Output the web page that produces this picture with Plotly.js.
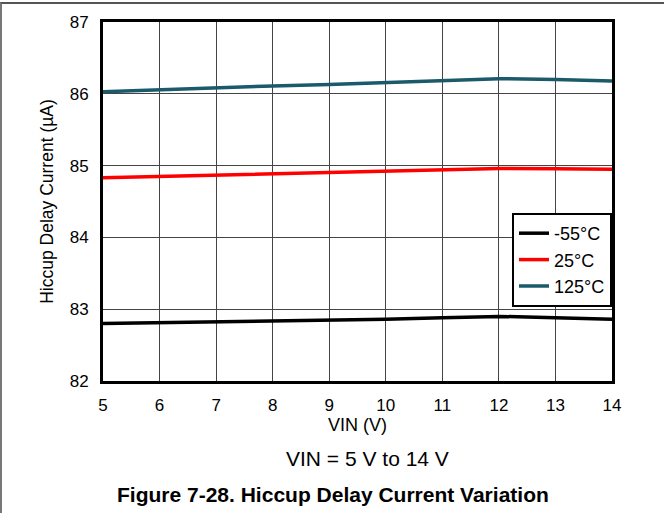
<!DOCTYPE html>
<html>
<head>
<meta charset="utf-8">
<script src="https://cdn.plot.ly/plotly-3.0.1.min.js"></script>
<style>
html,body{margin:0;padding:0;background:#fff;}
#wrap{position:absolute;left:0;top:0;width:664px;height:513px;}
#frame{position:absolute;left:0;top:2px;width:664px;height:511px;border-top:2px solid #555;border-left:2px solid #777;box-sizing:border-box;pointer-events:none;}
#chart{position:absolute;left:0;top:0;width:664px;height:513px;}
</style>
</head>
<body>
<div id="wrap"><div id="chart"></div><div id="frame"></div></div>
<script>
const vin = [5, 6, 7, 8, 9, 10, 11, 12, 13, 14];
const seriesNames = ['-55°C', '25°C', '125°C'];
const iMinus55 = [82.80, 82.81, 82.83, 82.84, 82.85, 82.86, 82.88, 82.90, 82.88, 82.86];
const i25 = [84.83, 84.85, 84.86, 84.88, 84.90, 84.92, 84.94, 84.96, 84.955, 84.95];
const i125 = [86.03, 86.06, 86.08, 86.11, 86.13, 86.16, 86.19, 86.21, 86.20, 86.18];
const xTicks = [5, 6, 7, 8, 9, 10, 11, 12, 13, 14];
const yTicks = [82, 83, 84, 85, 86, 87];

const colors = ['#000000', '#ff0000', '#1b5a6b'];
const values = [iMinus55, i25, i125];
const font = '"Liberation Sans", Arial, sans-serif';

const traces = values.map((v, k) => ({
  x: vin, y: v, name: seriesNames[k], type: 'scatter', mode: 'lines',
  line: {color: colors[k], width: 3.5}
}));

const layout = {
  width: 664, height: 513,
  margin: {l: 103, r: 52, t: 22, b: 132},
  paper_bgcolor: '#fff', plot_bgcolor: '#fff',
  font: {family: font, color: '#000', size: 17},
  showlegend: true,
  legend: {
    x: 1, xanchor: 'right', y: 0.468, yanchor: 'top',
    bgcolor: '#fff', bordercolor: '#000', borderwidth: 2,
    font: {family: font, size: 18, color: '#000'},
    tracegroupgap: 0
  },
  xaxis: {
    range: [5, 14], tickvals: xTicks, ticktext: xTicks.map(String),
    showline: true, mirror: true, linewidth: 3, linecolor: '#000',
    showgrid: true, gridcolor: '#444', gridwidth: 1,
    ticks: 'outside', ticklen: 7, tickcolor: 'rgba(0,0,0,0)',
    zeroline: false,
    tickfont: {family: font, size: 17},
    title: {text: 'VIN (V)', font: {family: font, size: 18}, standoff: 0}
  },
  yaxis: {
    range: [82, 87], tickvals: yTicks, ticktext: yTicks.map(String),
    showline: true, mirror: true, linewidth: 3, linecolor: '#000',
    showgrid: true, gridcolor: '#444', gridwidth: 1,
    ticks: 'outside', ticklen: 8, tickcolor: 'rgba(0,0,0,0)',
    zeroline: false,
    tickfont: {family: font, size: 17},
    title: {text: 'Hiccup Delay Current (µA)', font: {family: font, size: 17.5}, standoff: 12}
  },
  annotations: [
    {text: 'VIN = 5 V to 14 V', xref: 'paper', yref: 'paper', x: 0.52, y: -0.2145,
     xanchor: 'center', yanchor: 'middle', showarrow: false,
     font: {family: font, size: 21, color: '#000'}},
    {text: '<b>Figure 7-28. Hiccup Delay Current Variation</b>', xref: 'paper', yref: 'paper', x: 0.452, y: -0.315,
     xanchor: 'center', yanchor: 'middle', showarrow: false,
     font: {family: font, size: 21, color: '#000'}}
  ]
};

Plotly.newPlot('chart', traces, layout, {displayModeBar: false, staticPlot: true});
</script>
</body>
</html>
